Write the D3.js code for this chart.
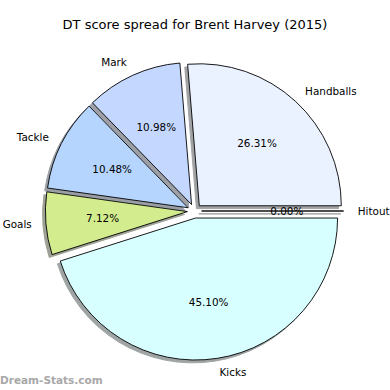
<!DOCTYPE html>
<html>
<head>
<meta charset="utf-8">
<script src="https://cdn.jsdelivr.net/npm/d3@7"></script>
<style>
  body { margin: 0; background: #fff; }
  text { font-family: "DejaVu Sans", sans-serif; }
</style>
</head>
<body>
<script>
// data
const categories = ["Handballs", "Mark", "Tackle", "Goals", "Kicks", "Hitout"];
const values = [26.31, 10.98, 10.48, 7.12, 45.10, 0.00];
const colors = ["#eaf2ff", "#c4d8ff", "#b5d5ff", "#d3ed8e", "#d8ffff", "#ffffff"];
const title = "DT score spread for Brent Harvey (2015)";

const width = 390, height = 390;
const cx = 194.5, cy = 211, r = 142;
const explode = 0.05 * r;
const shadowOff = 0.02 * r;

const data = categories.map((c, i) => ({name: c, value: values[i], color: colors[i]}));
const total = d3.sum(values);

// counterclockwise from 3 o'clock, like matplotlib
const pie = d3.pie().sort(null).value(d => d.value)
    .startAngle(Math.PI / 2).endAngle(Math.PI / 2 - 2 * Math.PI);
const arcs = pie(data);
const arc = d3.arc().innerRadius(0).outerRadius(r);

let mid = a => (a.startAngle + a.endAngle) / 2;
let offset = (a, dist) => [Math.sin(mid(a)) * dist, -Math.cos(mid(a)) * dist];

const svg = d3.select("body").append("svg")
    .attr("width", width)
    .attr("height", height);

svg.append("text")
    .attr("x", width / 2)
    .attr("y", 29)
    .attr("text-anchor", "middle")
    .attr("font-size", 13)
    .text(title);

const g = svg.append("g").attr("transform", "translate(" + cx + "," + cy + ")");

// shadows first, below all wedges
g.selectAll("path.shadow")
    .data(arcs)
    .enter().append("path")
    .attr("class", "shadow")
    .attr("transform", d => {
        let o = offset(d, explode);
        return "translate(" + (o[0] - shadowOff) + "," + (o[1] + shadowOff) + ")";
    })
    .attr("d", arc)
    .attr("fill", d => { let c = d3.rgb(d.data.color); return d3.rgb(c.r * 0.3, c.g * 0.3, c.b * 0.3); })
    .attr("stroke", d => { let c = d3.rgb(d.data.color); return d3.rgb(c.r * 0.3, c.g * 0.3, c.b * 0.3); })
    .attr("stroke-width", 1)
    .attr("opacity", 0.5);

g.selectAll("path.wedge")
    .data(arcs)
    .enter().append("path")
    .attr("class", "wedge")
    .attr("transform", d => "translate(" + offset(d, explode) + ")")
    .attr("d", arc)
    .attr("fill", d => d.data.color)
    .attr("stroke", "#000")
    .attr("stroke-width", 0.9)
    .attr("stroke-linejoin", "round");

// category labels at 1.1 r
g.selectAll("text.label")
    .data(arcs)
    .enter().append("text")
    .attr("class", "label")
    .attr("x", d => offset(d, explode + 1.1 * r)[0])
    .attr("y", d => offset(d, explode + 1.1 * r)[1])
    .attr("dy", "0.35em")
    .attr("font-size", 10.4)
    .attr("text-anchor", d => Math.sin(mid(d)) >= 0 ? "start" : "end")
    .text(d => d.data.name);

// percent labels at 0.6 r
g.selectAll("text.pct")
    .data(arcs)
    .enter().append("text")
    .attr("class", "pct")
    .attr("x", d => offset(d, explode + 0.6 * r)[0])
    .attr("y", d => offset(d, explode + 0.6 * r)[1])
    .attr("dy", "0.35em")
    .attr("font-size", 10.4)
    .attr("text-anchor", "middle")
    .text(d => (d.data.value / total * 100).toFixed(2) + "%");

svg.append("text")
    .attr("x", 0)
    .attr("y", 384)
    .attr("font-size", 10.5)
    .attr("font-weight", "bold")
    .attr("fill", "#a8a8a8")
    .text("Dream-Stats.com");
</script>
</body>
</html>
